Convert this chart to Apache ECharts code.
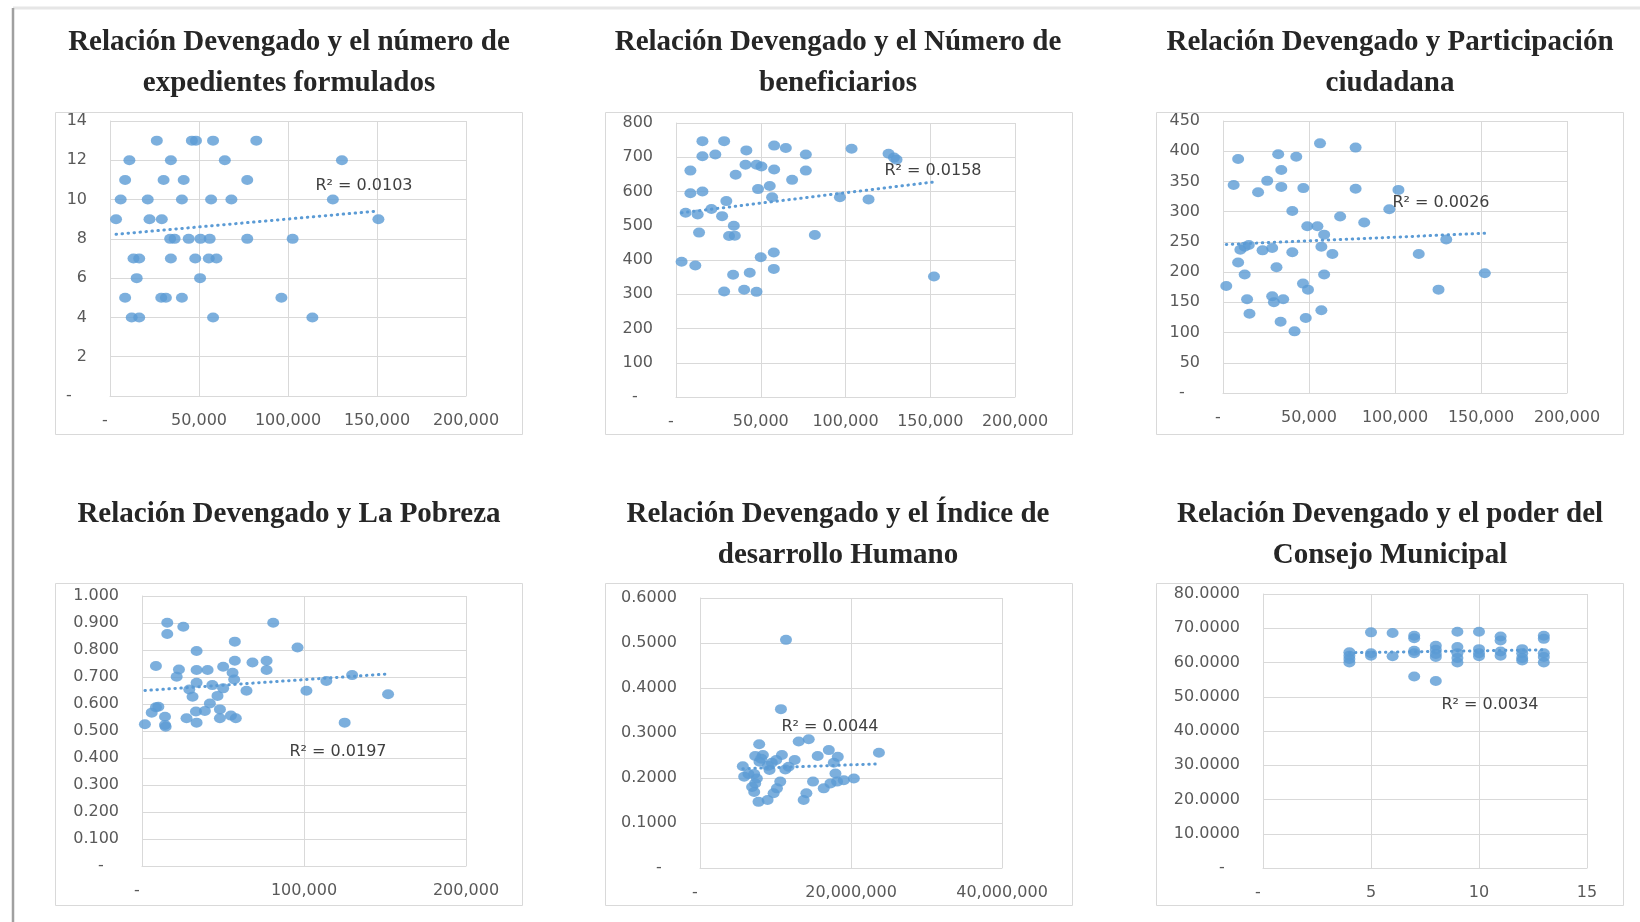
<!DOCTYPE html>
<html>
<head>
<meta charset="utf-8">
<title>Relación Devengado</title>
<script src="https://cdn.jsdelivr.net/npm/echarts@6/dist/echarts.min.js"></script>
<style>
html, body { margin: 0; padding: 0; background: #fff; }
#chart { width: 1640px; height: 922px; }
</style>
</head>
<body>
<div id="chart"></div>
<script>
// datos (Devengado en el eje X)
const titles = [
  'Relación Devengado y el número de\nexpedientes formulados',
  'Relación Devengado y el Número de\nbeneficiarios',
  'Relación Devengado y Participación\nciudadana',
  'Relación Devengado y La Pobreza',
  'Relación Devengado y el Índice de\ndesarrollo Humano',
  'Relación Devengado y el poder del\nConsejo Municipal'
]
const r2Labels = ['R² = 0.0103', 'R² = 0.0158', 'R² = 0.0026', 'R² = 0.0197', 'R² = 0.0044', 'R² = 0.0034']

const expedientesX = [26300, 46000, 48300, 57900, 82200, 10900, 34200, 64500, 130300, 8500, 30100, 41400, 77100, 6000, 21200, 40400, 56800, 68200, 125200, 3400, 22200, 29100, 150800, 33800, 36300, 44200, 50800, 56000, 77100, 102600, 13200, 16400, 34200, 47900, 55500, 59800, 15000, 50600, 8500, 28800, 31400, 40400, 96300, 12200, 16400, 57900, 113700]
const expedientesY = [13, 13, 13, 13, 13, 12, 12, 12, 12, 11, 11, 11, 11, 10, 10, 10, 10, 10, 10, 9, 9, 9, 9, 8, 8, 8, 8, 8, 8, 8, 7, 7, 7, 7, 7, 7, 6, 6, 5, 5, 5, 5, 5, 4, 4, 4, 4]

const beneficiariosX = [15600, 28400, 15600, 23200, 8500, 41500, 57900, 64800, 76600, 103600, 125400, 128600, 130100, 76600, 41000, 47500, 50400, 57900, 35200, 68500, 8500, 15600, 48400, 55300, 56700, 29700, 20900, 5700, 12800, 27200, 96700, 113600, 34100, 13600, 31300, 34700, 81900, 3300, 11400, 50000, 57700, 57700, 33700, 43500, 152200, 28400, 40200, 47500]
const beneficiariosY = [747, 747, 703, 708, 661, 720, 734, 727, 708, 725, 710, 699, 693, 661, 678, 678, 673, 664, 649, 634, 595, 600, 607, 616, 583, 572, 549, 538, 533, 528, 583, 577, 500, 480, 470, 471, 473, 395, 384, 408, 422, 374, 357, 363, 352, 308, 313, 307]

const participacionX = [1900, 6200, 8800, 8800, 12600, 10100, 12600, 15000, 14000, 15400, 20400, 25700, 23000, 28600, 31100, 28600, 29600, 35000, 32100, 33900, 33900, 33500, 42600, 40300, 40300, 41600, 46700, 46500, 49400, 48100, 49000, 54900, 56400, 58800, 57200, 58800, 57200, 63600, 68100, 77100, 77100, 82100, 96700, 102000, 113800, 125300, 129800, 152200]
const participacionY = [177, 344, 387, 216, 196, 237, 242, 245, 155, 131, 332, 351, 236, 240, 208, 160, 150, 155, 395, 369, 341, 118, 391, 301, 233, 102, 339, 181, 171, 124, 276, 276, 413, 262, 242, 196, 137, 230, 292, 406, 338, 282, 304, 336, 230, 171, 254, 198]

const pobrezaX = [1800, 6000, 8600, 10100, 8600, 14200, 14200, 14600, 15600, 15600, 25500, 22800, 21400, 27500, 33700, 33300, 33700, 33700, 40500, 33700, 29200, 31200, 38800, 41900, 43400, 46600, 50100, 50100, 48100, 48100, 55900, 56900, 57300, 57300, 54900, 57900, 64500, 68200, 76900, 76900, 81000, 96000, 101500, 113800, 129700, 125100, 151900]
const pobrezaY = [0.525, 0.568, 0.588, 0.590, 0.741, 0.553, 0.522, 0.516, 0.901, 0.859, 0.886, 0.728, 0.701, 0.547, 0.531, 0.572, 0.796, 0.726, 0.726, 0.679, 0.654, 0.627, 0.574, 0.602, 0.670, 0.630, 0.658, 0.738, 0.580, 0.547, 0.716, 0.691, 0.760, 0.831, 0.557, 0.547, 0.649, 0.754, 0.760, 0.726, 0.901, 0.809, 0.649, 0.685, 0.707, 0.531, 0.636]

const idhX = [11390000, 10720000, 7840000, 5670000, 5850000, 6420000, 7180000, 7530000, 7310000, 7180000, 7750000, 8950000, 7310000, 8330000, 7880000, 9210000, 9520000, 10100000, 10850000, 10630000, 10190000, 9750000, 11300000, 11740000, 12540000, 13070000, 14400000, 13730000, 14090000, 14970000, 15590000, 17060000, 16390000, 17280000, 17720000, 18250000, 17940000, 18160000, 19050000, 20380000, 23700000, 6900000, 8100000, 9000000]
const idhY = [0.507, 0.353, 0.275, 0.226, 0.203, 0.209, 0.209, 0.199, 0.188, 0.169, 0.147, 0.151, 0.249, 0.251, 0.236, 0.218, 0.234, 0.240, 0.251, 0.192, 0.177, 0.166, 0.219, 0.225, 0.240, 0.281, 0.286, 0.151, 0.166, 0.192, 0.249, 0.262, 0.177, 0.188, 0.234, 0.247, 0.210, 0.192, 0.195, 0.199, 0.256, 0.180, 0.243, 0.227]

const consejoX = [4, 4, 4, 4, 5, 5, 5, 6, 6, 7, 7, 7, 7, 7, 8, 8, 8, 8, 8, 9, 9, 9, 9, 9, 10, 10, 10, 10, 11, 11, 11, 11, 12, 12, 12, 12, 13, 13, 13, 13, 13]
const consejoY = [63, 62, 61, 60, 68.8, 62.7, 62, 68.6, 61.8, 67.8, 67.1, 63.4, 62.7, 55.9, 64.9, 63.7, 62.5, 61.6, 54.6, 69.0, 64.5, 62.7, 61.3, 60.0, 69.0, 63.9, 62.7, 61.8, 67.6, 66.4, 63.2, 62.0, 63.9, 62.7, 61.3, 60.6, 67.8, 66.9, 62.7, 61.6, 60.0]

// escalas de los ejes: [max, intervalo]
const xScales = [[200000, 50000], [200000, 50000], [200000, 50000], [200000, 100000], [40000000, 20000000], [15, 5]]
const yScales = [[14, 2], [800, 100], [450, 50], [1, 0.1], [0.6, 0.1], [80, 10]]
const yDecimals = [0, 0, 0, 3, 4, 4]

const seriesX = [expedientesX, beneficiariosX, participacionX, pobrezaX, idhX, consejoX]
const seriesY = [expedientesY, beneficiariosY, participacionY, pobrezaY, idhY, consejoY]

// layout (px)
const grids = [
  { left: 110, top: 121, width: 356, height: 275 },
  { left: 676, top: 123, width: 339, height: 274 },
  { left: 1223, top: 121, width: 344, height: 272 },
  { left: 142, top: 596, width: 324, height: 270 },
  { left: 700, top: 598, width: 302, height: 270 },
  { left: 1263, top: 594, width: 324, height: 274 }
]
const boxes = [
  [55, 112], [605, 112], [1156, 112],
  [55, 583], [605, 583], [1156, 583]
]
const titlePos = [[289, 22], [838, 22], [1390, 22], [289, 494], [838, 494], [1390, 494]]
const r2Pos = [[364, 186], [933, 171], [1441, 203], [338, 752], [830, 727], [1490, 705]]

const BLUE = '#5B9BD5'
const GRID_COLOR = '#d9d9d9'
const LABEL_COLOR = '#595959'

const linearFit = (xs, ys) => {
  const n = xs.length
  const mx = xs.reduce((a, b) => a + b, 0) / n
  const my = ys.reduce((a, b) => a + b, 0) / n
  let sxy = 0
  let sxx = 0
  for (let i = 0; i < n; i++) {
    sxy += (xs[i] - mx) * (ys[i] - my)
    sxx += (xs[i] - mx) * (xs[i] - mx)
  }
  const slope = sxy / sxx
  return { slope, intercept: my - slope * mx }
}

const xFormatter = (v) => (v === 0 ? '-  ' : v.toLocaleString('en-US'))

const chart = echarts.init(document.getElementById('chart'))

const option = {
  backgroundColor: '#fff',
  animation: false,
  title: titles.map((t, i) => ({
    text: t,
    left: titlePos[i][0],
    top: titlePos[i][1],
    textAlign: 'center',
    padding: 0,
    textStyle: {
      fontFamily: 'Liberation Serif',
      fontWeight: 'bold',
      fontSize: 29,
      lineHeight: 41,
      color: '#262626'
    }
  })),
  grid: grids,
  xAxis: xScales.map((s, i) => ({
    type: 'value',
    gridIndex: i,
    min: 0,
    max: s[0],
    interval: s[1],
    axisLine: { show: true, lineStyle: { color: GRID_COLOR } },
    axisTick: { show: false },
    splitLine: { show: true, lineStyle: { color: GRID_COLOR } },
    axisLabel: {
      color: LABEL_COLOR,
      fontFamily: 'DejaVu Sans',
      fontSize: 16,
      margin: 17,
      formatter: xFormatter
    }
  })),
  yAxis: yScales.map((s, i) => ({
    type: 'value',
    gridIndex: i,
    min: 0,
    max: s[0],
    interval: s[1],
    axisLine: { show: true, lineStyle: { color: GRID_COLOR } },
    axisTick: { show: false },
    splitLine: { show: true, lineStyle: { color: GRID_COLOR } },
    axisLabel: {
      color: LABEL_COLOR,
      fontFamily: 'DejaVu Sans',
      fontSize: 16,
      margin: 23,
      formatter: (v) => (Math.abs(v) < 1e-9 ? '-   ' : v.toFixed(yDecimals[i]))
    }
  })),
  series: [],
  graphic: []
}

seriesX.forEach((xs, i) => {
  const ys = seriesY[i]
  option.series.push({
    type: 'scatter',
    xAxisIndex: i,
    yAxisIndex: i,
    data: xs.map((x, j) => [x, ys[j]]),
    symbolSize: [12, 10],
    itemStyle: { color: BLUE }
  })

  // linea de tendencia (minimos cuadrados)
  const fit = linearFit(xs, ys)
  const x0 = Math.min(...xs)
  const x1 = Math.max(...xs)
  option.series.push({
    type: 'line',
    xAxisIndex: i,
    yAxisIndex: i,
    data: [[x0, fit.intercept + fit.slope * x0], [x1, fit.intercept + fit.slope * x1]],
    symbol: 'none',
    silent: true,
    lineStyle: { color: BLUE, width: 3, type: [0.5, 5.5], cap: 'round' }
  })
})

// marcos de cada grafico
boxes.forEach((b) => {
  option.graphic.push({
    type: 'rect',
    shape: { x: b[0] + 0.5, y: b[1] + 0.5, width: 467, height: 322 },
    style: { fill: 'none', stroke: GRID_COLOR, lineWidth: 1 },
    silent: true
  })
})

r2Labels.forEach((t, i) => {
  option.graphic.push({
    type: 'text',
    x: r2Pos[i][0],
    y: r2Pos[i][1],
    z: 10,
    style: {
      text: t,
      fill: '#404040',
      font: '16px "DejaVu Sans"',
      align: 'center',
      verticalAlign: 'middle'
    }
  })
})

// bordes de la pagina
option.graphic.push({
  type: 'line',
  shape: { x1: 13, y1: 8, x2: 1640, y2: 8 },
  style: { stroke: '#e6e6e6', lineWidth: 3 },
  silent: true
})
option.graphic.push({
  type: 'line',
  shape: { x1: 13, y1: 8, x2: 13, y2: 922 },
  style: { stroke: '#a0a0a0', lineWidth: 2.5 },
  silent: true
})

chart.setOption(option)
window.addEventListener('resize', () => chart.resize())
</script>
</body>
</html>
